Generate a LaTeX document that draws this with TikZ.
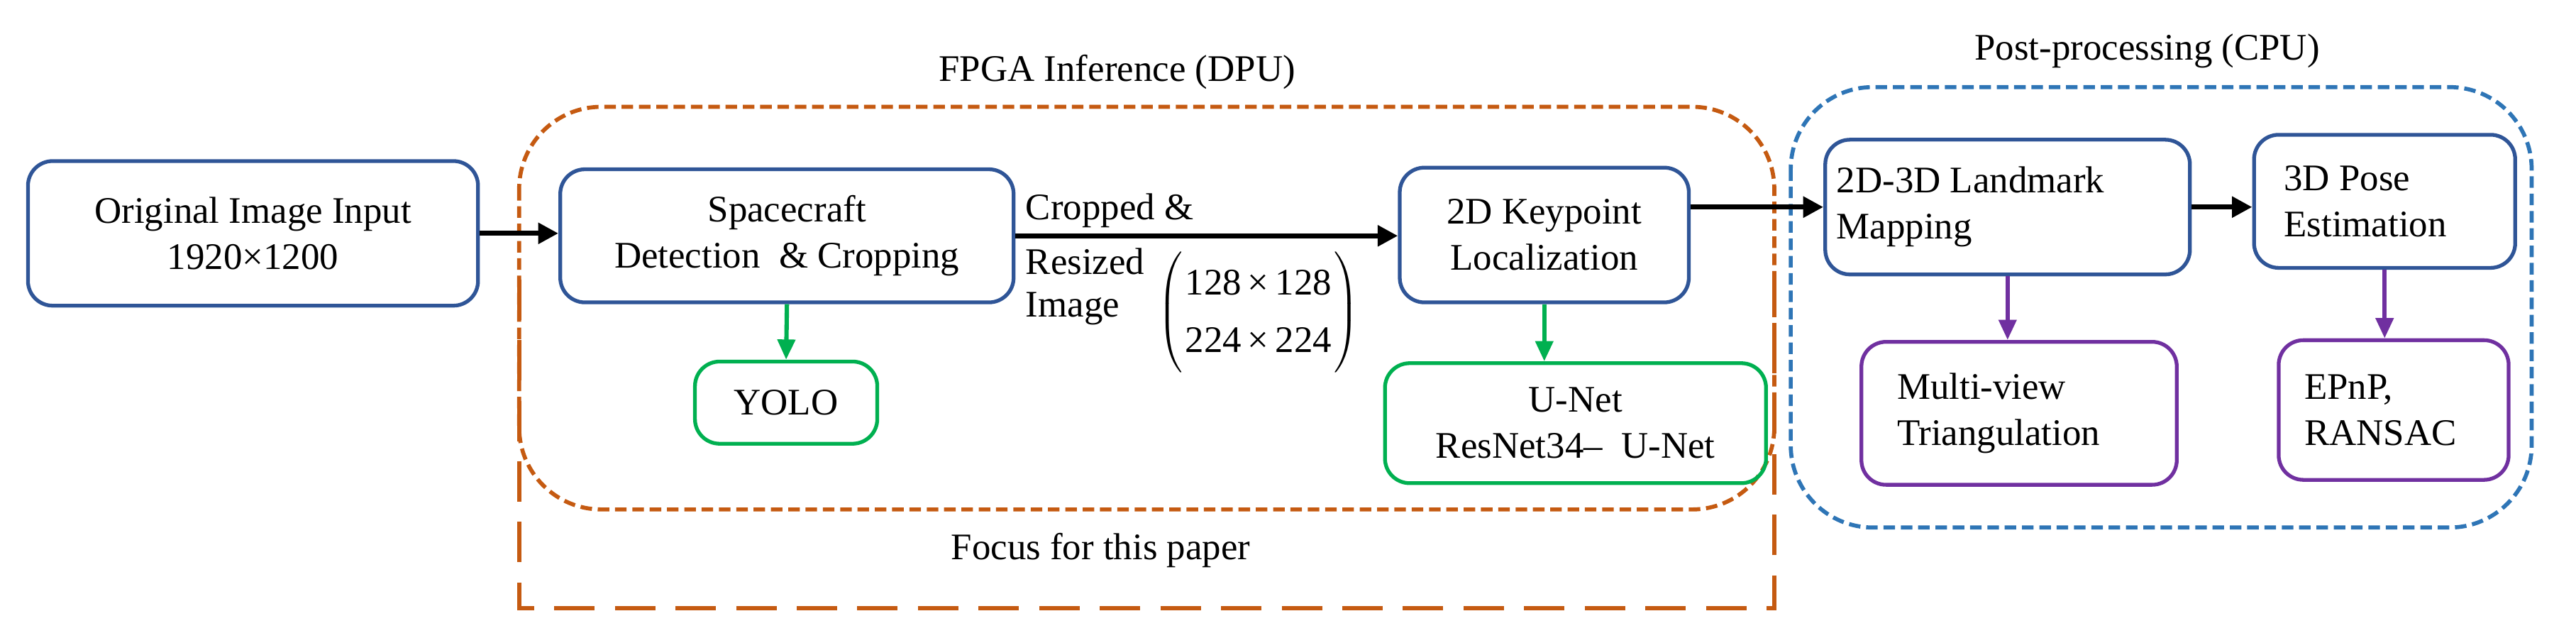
\documentclass[tikz,border=0pt]{standalone}
\usepackage{fontspec}
\setmainfont{Liberation Serif}
\usetikzlibrary{arrows.meta}
\definecolor{bb}{HTML}{2F5597}
\definecolor{og}{HTML}{C55A11}
\definecolor{gr}{HTML}{00B050}
\definecolor{pu}{HTML}{7030A0}
\definecolor{lb}{HTML}{2E75B6}
\begin{document}
\begin{tikzpicture}[x=0.02cm,y=-0.02cm,
  every node/.style={font=\fontsize{13}{16}\selectfont},
  box/.style={draw=#1,line width=1.3pt,rounded corners=0.3cm,align=center,inner sep=2pt},
  blk/.style={line width=1.8pt,-{Triangle[length=7pt,width=7pt]}},
  sub/.style={draw=#1,line width=1.5pt,-{Triangle[length=7pt,width=6pt]}}]
\useasboundingbox (0,0) rectangle (1568,388);
% group frames
\draw[og,line width=1.4pt,dash pattern=on 4pt off 2pt,rounded corners=1cm] (316,65) rectangle (1080,310);
\draw[og,line width=1.4pt,dash pattern=on 14pt off 7pt] (316,170) -- (316,370) -- (1080,370) -- (1080,170);
\draw[lb,line width=1.4pt,dash pattern=on 4pt off 2pt,rounded corners=1cm] (1090,53) rectangle (1541,321);
\node (tf) at (680,44) {FPGA Inference (DPU)};
\node (tfo) at (670,335) {Focus for this paper};
\node (tp) at (1307,31) {Post-processing (CPU)};
% nodes
\node[box=bb,minimum width=5.48cm,minimum height=1.76cm] (oi) at (154,142) {Original Image Input\\1920×1200};
\node[box=bb,minimum width=5.52cm,minimum height=1.62cm] (sc) at (479,143.5) {Spacecraft\\Detection \ \& Cropping};
\node[box=gr,minimum width=2.22cm,minimum height=1.0cm] (yo) at (478.5,245) {YOLO};
\node[box=bb,minimum width=3.52cm,minimum height=1.64cm] (kp) at (940,143) {2D Keypoint\\Localization};
\node[box=gr,minimum width=4.64cm,minimum height=1.46cm] (un) at (959,257.5) {U-Net\\ResNet34– \ U-Net};
\node[box=bb,minimum width=4.44cm,minimum height=1.64cm,align=left] (lm) at (1222,126) {2D-3D Landmark\\Mapping\hspace*{5.5em}};
\node[box=bb,minimum width=3.18cm,minimum height=1.62cm,align=left] (po) at (1451.5,122.5) {3D Pose\hspace*{2em}\\Estimation};
\node[box=pu,minimum width=3.84cm,minimum height=1.74cm,align=left] (mv) at (1229,251.5) {Multi-view\hspace*{2em}\\Triangulation};
\node[box=pu,minimum width=2.8cm,minimum height=1.7cm,align=left] (ep) at (1457,249.5) {EPnP,\hspace*{2.4em}\\RANSAC};
% label of cropped arrow
\node[anchor=west,inner sep=0] (l1) at (624,128) {Cropped \&};
\node[anchor=west,inner sep=0] (l2) at (624,159) {Resized};
\node[anchor=west,inner sep=0] (l3) at (624,188) {Image};
\node[inner sep=0] (mx) at (766,190) {$\left(\renewcommand\arraystretch{1.25}\setlength\arraycolsep{1pt}\begin{array}{c}\mbox{128\,×\,128}\\ \mbox{224\,×\,224}\end{array}\right)$};
% connectors
\draw[blk] (oi.east) -- (oi.east -| sc.west);
\draw[blk] (sc.east) -- (sc.east -| kp.west);
\draw[blk] (kp.east |- lm.west) -- (lm.west);
\draw[blk] (lm.east) -- (lm.east -| po.west);
\draw[sub=gr,gr] (sc.south) -- (yo.north);
\draw[sub=gr,gr] (kp.south) -- (kp.south |- un.north);
\draw[sub=pu,pu] (lm.south) -- (lm.south |- mv.north);
\draw[sub=pu,pu] (po.south) -- (po.south |- ep.north);
\end{tikzpicture}
\end{document}
